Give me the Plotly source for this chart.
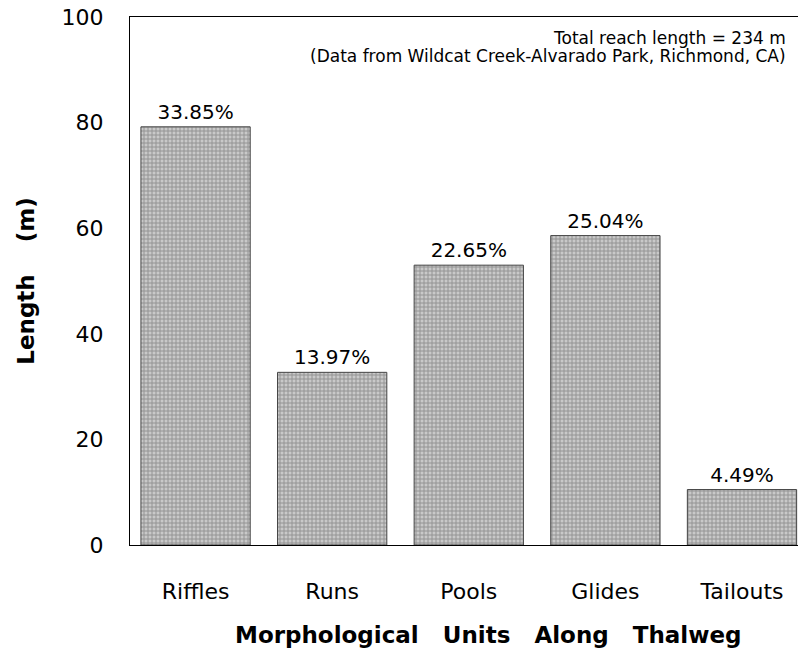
import plotly.graph_objects as go

units = ["Riffles", "Runs", "Pools", "Glides", "Tailouts"]
lengths = [79.2, 32.7, 53.0, 58.6, 10.5]
percents = ["33.85%", "13.97%", "22.65%", "25.04%", "4.49%"]
note_lines = ["Total reach length = 234 m",
              "(Data from Wildcat Creek-Alvarado Park, Richmond, CA)"]

fig = go.Figure()

fig.add_trace(go.Bar(
    x=units,
    y=lengths,
    text=percents,
    textposition="outside",
    cliponaxis=False,
    width=0.8,
    textfont=dict(size=20, color="black"),
    marker=dict(
        color="#b0b0b0",
        line=dict(color="#444444", width=1),
        pattern=dict(shape="+", size=4, solidity=0.4,
                     fgcolor="#555555", bgcolor="#c9c9c9"),
    ),
))

# two separate lines so the line gap stays tight like the original
for line, ypos in zip(note_lines, [0.960, 0.926]):
    fig.add_annotation(
        text=line,
        xref="paper", yref="paper", x=0.985, y=ypos,
        xanchor="right", yanchor="middle",
        showarrow=False, font=dict(size=17, color="black"),
    )

# x title placed by hand, it sits a bit right of the plot centre
fig.add_annotation(
    text="<b>Morphological   Units   Along   Thalweg</b>",
    xref="paper", yref="paper", x=0.537, y=-0.17,
    xanchor="center", yanchor="middle",
    showarrow=False, font=dict(size=23, color="black"),
)

fig.update_layout(
    width=800, height=651,
    margin=dict(l=130, r=2, t=17, b=106),
    plot_bgcolor="white",
    paper_bgcolor="white",
    showlegend=False,
    font=dict(family="DejaVu Sans, sans-serif", color="black"),
    xaxis=dict(
        range=[-0.48, 4.41],
        showline=True, linecolor="black", linewidth=1, mirror=True,
        ticks="", tickfont=dict(size=22), ticklabelstandoff=27,
    ),
    yaxis=dict(
        range=[0, 100],
        tickvals=[0, 20, 40, 60, 80, 100],
        showline=True, linecolor="black", linewidth=1,
        showgrid=False, zeroline=False,
        ticks="", tickfont=dict(size=22), ticklabelstandoff=21,
        title=dict(text="<b>Length    (m)</b>", font=dict(size=23), standoff=20),
    ),
)

fig.write_html("out.html", config={"displayModeBar": False},
               post_script="document.body.style.margin='0';")
